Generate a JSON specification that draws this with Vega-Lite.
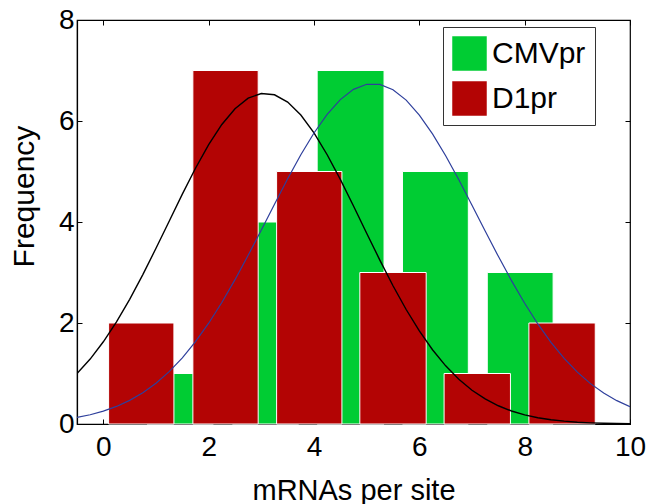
{
  "$schema": "https://vega.github.io/schema/vega-lite/v6.json",
  "width": 553,
  "height": 404,
  "autosize": {"type": "none"},
  "padding": {"left": 77, "top": 20, "right": 18, "bottom": 80},
  "background": "white",
  "config": {
    "font": "Liberation Sans",
    "view": {"stroke": "black", "strokeWidth": 1.2},
    "axis": {
      "grid": false,
      "domainColor": "black",
      "domainWidth": 1.2,
      "tickColor": "black",
      "tickWidth": 1,
      "tickSize": -5,
      "labelColor": "black",
      "labelFont": "Liberation Sans",
      "labelFontSize": 28,
      "labelFlush": false,
      "labelOverlap": false,
      "titleColor": "black",
      "titleFont": "Liberation Sans",
      "titleFontWeight": "normal"
    }
  },
  "datasets": {
    "bars": [
      {"series": "CMVpr", "start": 0.83, "end": 2.09, "count": 1},
      {"series": "CMVpr", "start": 2.45, "end": 3.71, "count": 4},
      {"series": "CMVpr", "start": 4.06, "end": 5.33, "count": 7},
      {"series": "CMVpr", "start": 5.68, "end": 6.93, "count": 5},
      {"series": "CMVpr", "start": 7.29, "end": 8.54, "count": 3},
      {"series": "D1pr", "start": 0.10, "end": 1.34, "count": 2},
      {"series": "D1pr", "start": 1.70, "end": 2.94, "count": 7},
      {"series": "D1pr", "start": 3.29, "end": 4.53, "count": 5},
      {"series": "D1pr", "start": 4.87, "end": 6.13, "count": 3},
      {"series": "D1pr", "start": 6.47, "end": 7.73, "count": 1},
      {"series": "D1pr", "start": 8.08, "end": 9.34, "count": 2}
    ],
    "fitD1": [
      {"x": -0.5, "y": 0.997}, {"x": -0.25, "y": 1.286}, {"x": 0, "y": 1.628}, {"x": 0.25, "y": 2.024},
      {"x": 0.5, "y": 2.469}, {"x": 0.75, "y": 2.958}, {"x": 1, "y": 3.479}, {"x": 1.25, "y": 4.016},
      {"x": 1.5, "y": 4.552}, {"x": 1.75, "y": 5.064}, {"x": 2, "y": 5.531}, {"x": 2.25, "y": 5.931},
      {"x": 2.5, "y": 6.243}, {"x": 2.75, "y": 6.452}, {"x": 3, "y": 6.545}, {"x": 3.25, "y": 6.519},
      {"x": 3.5, "y": 6.374}, {"x": 3.75, "y": 6.118}, {"x": 4, "y": 5.765}, {"x": 4.25, "y": 5.332},
      {"x": 4.5, "y": 4.843}, {"x": 4.75, "y": 4.317}, {"x": 5, "y": 3.778}, {"x": 5.25, "y": 3.246},
      {"x": 5.5, "y": 2.738}, {"x": 5.75, "y": 2.267}, {"x": 6, "y": 1.843}, {"x": 6.25, "y": 1.471},
      {"x": 6.5, "y": 1.152}, {"x": 6.75, "y": 0.886}, {"x": 7, "y": 0.669}, {"x": 7.25, "y": 0.496},
      {"x": 7.5, "y": 0.361}, {"x": 7.75, "y": 0.258}, {"x": 8, "y": 0.181}, {"x": 8.25, "y": 0.125},
      {"x": 8.5, "y": 0.084}, {"x": 8.75, "y": 0.056}, {"x": 9, "y": 0.036}, {"x": 9.25, "y": 0.023},
      {"x": 9.5, "y": 0.015}, {"x": 9.75, "y": 0.009}, {"x": 10, "y": 0.005}
    ],
    "fitCMV": [
      {"x": -0.5, "y": 0.130}, {"x": -0.25, "y": 0.183}, {"x": 0, "y": 0.254}, {"x": 0.25, "y": 0.348},
      {"x": 0.5, "y": 0.468}, {"x": 0.75, "y": 0.619}, {"x": 1, "y": 0.807}, {"x": 1.25, "y": 1.037},
      {"x": 1.5, "y": 1.310}, {"x": 1.75, "y": 1.630}, {"x": 2, "y": 1.996}, {"x": 2.25, "y": 2.407},
      {"x": 2.5, "y": 2.858}, {"x": 2.75, "y": 3.340}, {"x": 3, "y": 3.843}, {"x": 3.25, "y": 4.353},
      {"x": 3.5, "y": 4.855}, {"x": 3.75, "y": 5.331}, {"x": 4, "y": 5.762}, {"x": 4.25, "y": 6.131},
      {"x": 4.5, "y": 6.424}, {"x": 4.75, "y": 6.626}, {"x": 5, "y": 6.728}, {"x": 5.25, "y": 6.726},
      {"x": 5.5, "y": 6.619}, {"x": 5.75, "y": 6.414}, {"x": 6, "y": 6.118}, {"x": 6.25, "y": 5.746},
      {"x": 6.5, "y": 5.313}, {"x": 6.75, "y": 4.835}, {"x": 7, "y": 4.333}, {"x": 7.25, "y": 3.822},
      {"x": 7.5, "y": 3.320}, {"x": 7.75, "y": 2.839}, {"x": 8, "y": 2.390}, {"x": 8.25, "y": 1.981},
      {"x": 8.5, "y": 1.616}, {"x": 8.75, "y": 1.298}, {"x": 9, "y": 1.027}, {"x": 9.25, "y": 0.799},
      {"x": 9.5, "y": 0.613}, {"x": 9.75, "y": 0.462}, {"x": 10, "y": 0.344}
    ]
  },
  "layer": [
    {
      "data": {"name": "bars"},
      "mark": {"type": "rect", "stroke": "white", "strokeWidth": 1},
      "encoding": {
        "x": {
          "field": "start", "type": "quantitative",
          "scale": {"domain": [-0.5, 10], "nice": false, "zero": false},
          "axis": {"orient": "bottom", "values": [0, 2, 4, 6, 8, 10], "title": "mRNAs per site", "titleFontSize": 29, "titleBaseline": "alphabetic", "titleY": 75, "labelPadding": 14}
        },
        "x2": {"field": "end"},
        "y": {
          "field": "count", "type": "quantitative",
          "scale": {"domain": [0, 8], "nice": false},
          "axis": {"orient": "left", "values": [0, 2, 4, 6, 8], "title": "Frequency", "titleFontSize": 30, "titleBaseline": "alphabetic", "titleAngle": -90, "titleX": -44, "titleY": 176, "titleAlign": "center", "labelPadding": 8}
        },
        "y2": {"datum": 0},
        "color": {
          "field": "series", "type": "nominal",
          "scale": {"domain": ["CMVpr", "D1pr"], "range": ["#00cc33", "#b30404"]},
          "legend": {
            "title": null, "orient": "none", "legendX": 366, "legendY": 7,
            "strokeColor": "#333333", "fillColor": "white", "padding": 9,
            "symbolType": "square", "symbolSize": 1190, "symbolStrokeWidth": 0, "symbolOpacity": 1,
            "labelFontSize": 30, "labelColor": "black", "labelOffset": 5, "rowPadding": 10,
            "labelFont": "Liberation Sans"
          }
        }
      }
    },
    {
      "data": {"name": "fitD1"},
      "mark": {"type": "line", "color": "black", "strokeWidth": 1.4, "clip": true},
      "encoding": {
        "x": {"field": "x", "type": "quantitative", "axis": {"orient": "top", "values": [0, 2, 4, 6, 8, 10], "labels": false, "title": null, "domain": false}},
        "y": {"field": "y", "type": "quantitative", "axis": {"orient": "right", "values": [0, 2, 4, 6, 8], "labels": false, "title": null, "domain": false}}
      }
    },
    {
      "data": {"name": "fitCMV"},
      "mark": {"type": "line", "color": "#2e3f9c", "strokeWidth": 1.2, "clip": true},
      "encoding": {
        "x": {"field": "x", "type": "quantitative", "axis": null},
        "y": {"field": "y", "type": "quantitative", "axis": null}
      }
    }
  ],
  "resolve": {"axis": {"x": "independent", "y": "independent"}}
}
